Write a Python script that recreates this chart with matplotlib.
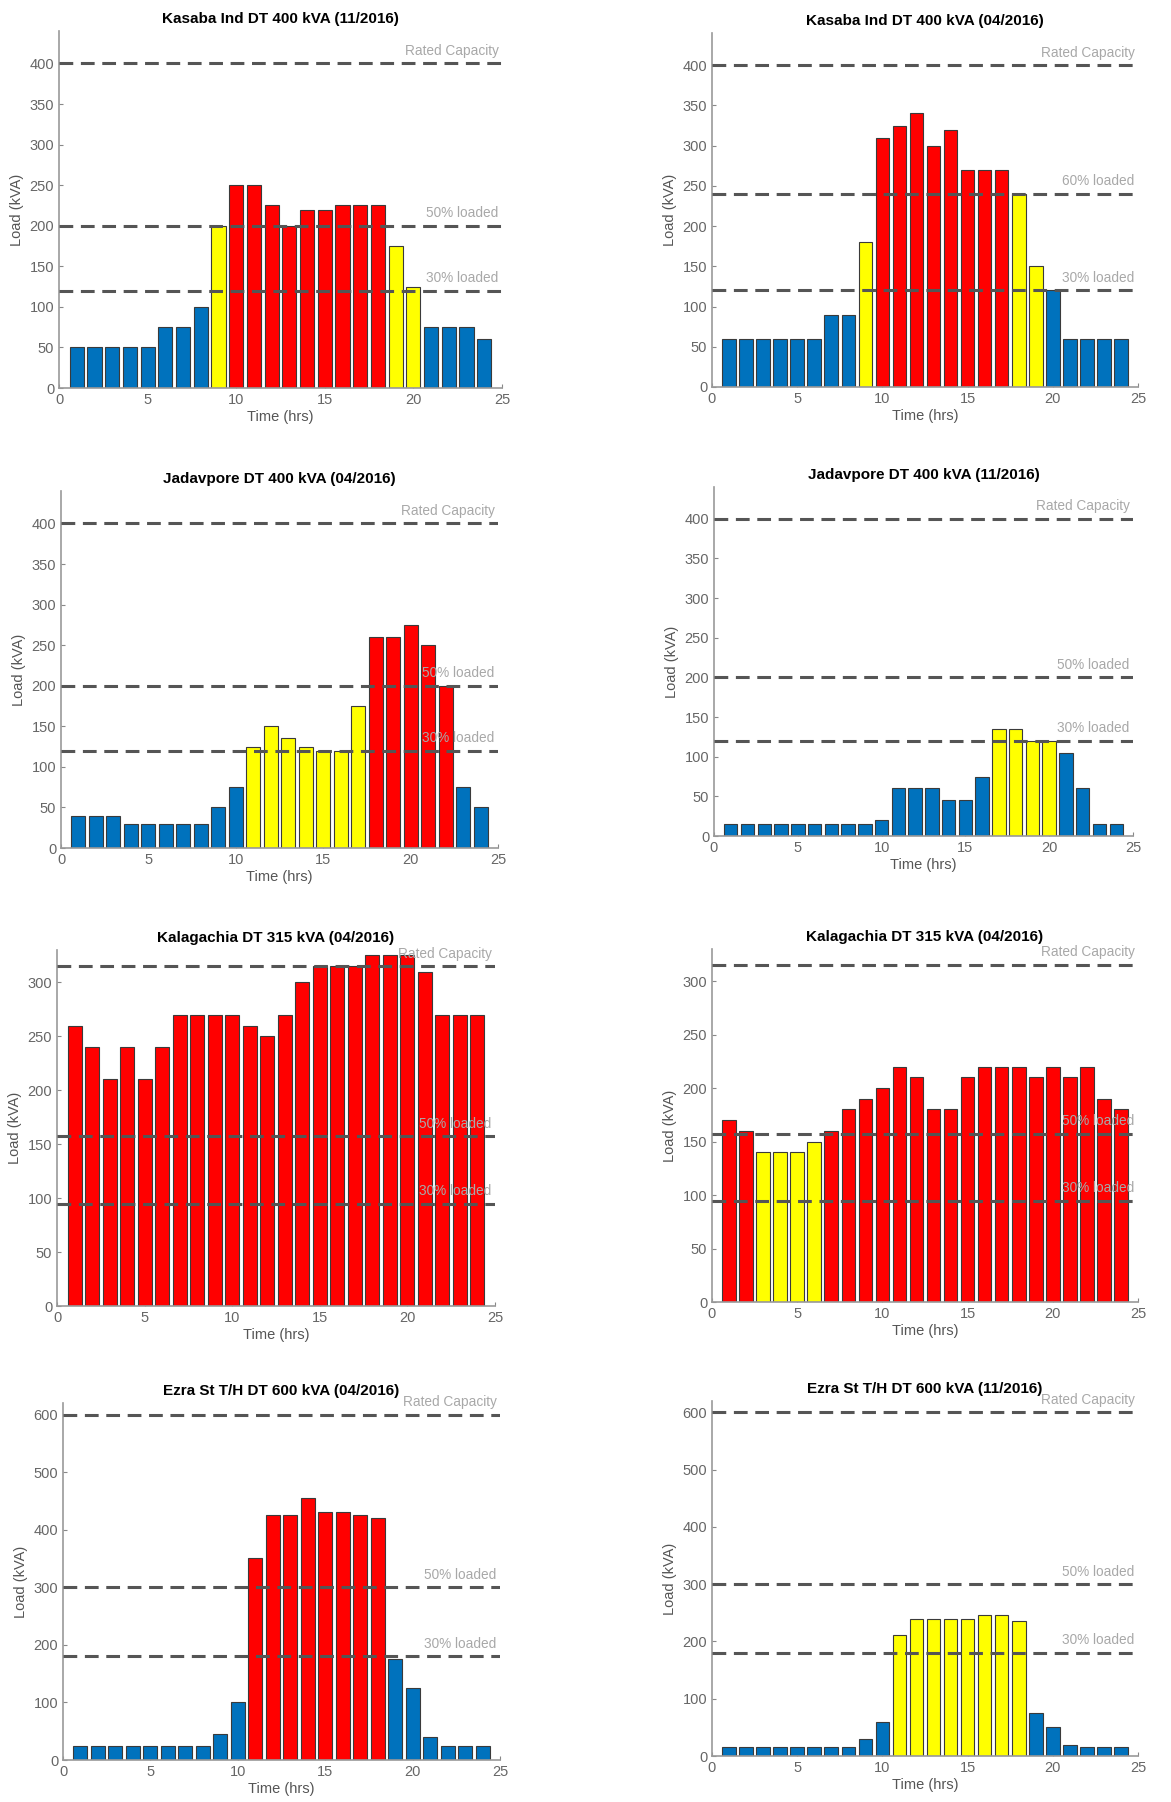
import matplotlib.pyplot as plt
import numpy as np

# Heures de la journée
hours = np.arange(1, 25)

# Titres des 8 graphes
titles = [
    'Kasaba Ind DT 400 kVA (11/2016)', 'Kasaba Ind DT 400 kVA (04/2016)',
    'Jadavpore DT 400 kVA (04/2016)', 'Jadavpore DT 400 kVA (11/2016)',
    'Kalagachia DT 315 kVA (04/2016)', 'Kalagachia DT 315 kVA (04/2016)',
    'Ezra St T/H DT 600 kVA (04/2016)', 'Ezra St T/H DT 600 kVA (11/2016)',
]

# Charges horaires (kVA)
kasaba_nov = [50, 50, 50, 50, 50, 75, 75, 100, 200, 250, 250, 225,
              200, 220, 220, 225, 225, 225, 175, 125, 75, 75, 75, 60]
kasaba_apr = [60, 60, 60, 60, 60, 60, 90, 90, 180, 310, 325, 340,
              300, 320, 270, 270, 270, 240, 150, 120, 60, 60, 60, 60]
jadav_apr = [40, 40, 40, 30, 30, 30, 30, 30, 50, 75, 125, 150,
             135, 125, 120, 120, 175, 260, 260, 275, 250, 200, 75, 50]
jadav_nov = [15, 15, 15, 15, 15, 15, 15, 15, 15, 20, 60, 60,
             60, 45, 45, 75, 135, 135, 120, 120, 105, 60, 15, 15]
kalag_a = [260, 240, 210, 240, 210, 240, 270, 270, 270, 270, 260, 250,
           270, 300, 315, 315, 315, 325, 325, 325, 310, 270, 270, 270]
kalag_b = [170, 160, 140, 140, 140, 150, 160, 180, 190, 200, 220, 210,
           180, 180, 210, 220, 220, 220, 210, 220, 210, 220, 190, 180]
ezra_apr = [25, 25, 25, 25, 25, 25, 25, 25, 45, 100, 350, 425,
            425, 455, 430, 430, 425, 420, 175, 125, 40, 25, 25, 25]
ezra_nov = [15, 15, 15, 15, 15, 15, 15, 15, 30, 60, 212, 240,
            240, 240, 240, 247, 247, 235, 75, 50, 20, 15, 15, 15]

# Niveau de charge de chaque barre (B = faible, Y = moyen, R = élevé)
levels_kasaba_nov = 'BBBBBBBBYRRRRRRRRRYYBBBB'
levels_kasaba_apr = 'BBBBBBBBYRRRRRRRRYYBBBBB'
levels_jadav_apr = 'BBBBBBBBBBYYYYYYYRRRRRBB'
levels_jadav_nov = 'BBBBBBBBBBBBBBBBYYYYBBBB'
levels_kalag_a = 'RRRRRRRRRRRRRRRRRRRRRRRR'
levels_kalag_b = 'RRYYYYRRRRRRRRRRRRRRRRRR'
levels_ezra_apr = 'BBBBBBBBBBRRRRRRRRBBBBBB'
levels_ezra_nov = 'BBBBBBBBBBYYYYYYYYBBBBBB'

# Lignes de référence (valeur, texte)
ref_kasaba_nov = [(400, 'Rated Capacity'), (200, '50% loaded'), (120, '30% loaded')]
ref_kasaba_apr = [(400, 'Rated Capacity'), (240, '60% loaded'), (120, '30% loaded')]
ref_jadav = [(400, 'Rated Capacity'), (200, '50% loaded'), (120, '30% loaded')]
ref_kalag = [(315, 'Rated Capacity'), (157.5, '50% loaded'), (94.5, '30% loaded')]
ref_ezra = [(600, 'Rated Capacity'), (300, '50% loaded'), (180, '30% loaded')]

colors = {'B': '#0072BD', 'Y': '#FFFF00', 'R': '#FF0000'}

panels = [
    (kasaba_nov, levels_kasaba_nov, ref_kasaba_nov, 440, 50),
    (kasaba_apr, levels_kasaba_apr, ref_kasaba_apr, 440, 50),
    (jadav_apr, levels_jadav_apr, ref_jadav, 440, 50),
    (jadav_nov, levels_jadav_nov, ref_jadav, 440, 50),
    (kalag_a, levels_kalag_a, ref_kalag, 330, 50),
    (kalag_b, levels_kalag_b, ref_kalag, 330, 50),
    (ezra_apr, levels_ezra_apr, ref_ezra, 620, 100),
    (ezra_nov, levels_ezra_nov, ref_ezra, 620, 100),
]

# Position des axes en pixels (gauche, haut, droite, bas)
boxes = [
    (59, 31, 502, 388), (712, 33, 1138, 387),
    (61, 491, 498, 848), (714, 487, 1133, 836),
    (57, 950, 495, 1306), (712, 949, 1138, 1302),
    (63, 1403, 500, 1760), (712, 1401, 1138, 1756),
]

W, H = 1171, 1802
fig = plt.figure(figsize=(W / 100, H / 100), dpi=100)
plt.rcParams['font.family'] = ['Liberation Sans', 'DejaVu Sans']

for i, (vals, lev, refs, ytop, ystep) in enumerate(panels):
    l, t, r, b = boxes[i]
    ax = fig.add_axes([l / W, 1 - b / H, (r - l) / W, (b - t) / H])
    ax.bar(hours, vals, width=0.8, color=[colors[c] for c in lev],
           edgecolor='#3a3a3a', linewidth=0.8, zorder=2)
    for val, txt in refs:
        ax.axhline(val, color='#555555', linewidth=2.2, dashes=(4.5, 2.5), zorder=3)
        ax.annotate(txt, xy=(24.8, val), xytext=(0, 4), textcoords='offset points',
                    ha='right', va='bottom', fontsize=9.8, color='#a8a8a8', zorder=4)
    ax.set_xlim(0, 25)
    ax.set_ylim(0, ytop)
    ax.set_xticks(np.arange(0, 26, 5))
    ax.set_yticks(np.arange(0, ytop, ystep))
    ax.set_title(titles[i], fontsize=11, fontweight='bold', pad=6)
    ax.set_xlabel('Time (hrs)', fontsize=10.5, color='#555555', labelpad=2)
    ax.set_ylabel('Load (kVA)', fontsize=10.5, color='#555555', labelpad=4)
    ax.tick_params(direction='in', length=3, colors='#888888', labelcolor='#666666',
                   labelsize=10.5)
    for s in ['top', 'right']:
        ax.spines[s].set_visible(False)
    for s in ['left', 'bottom']:
        ax.spines[s].set_color('#999999')
        ax.spines[s].set_linewidth(1.2)

plt.savefig('out.png', dpi=100)
plt.close()
